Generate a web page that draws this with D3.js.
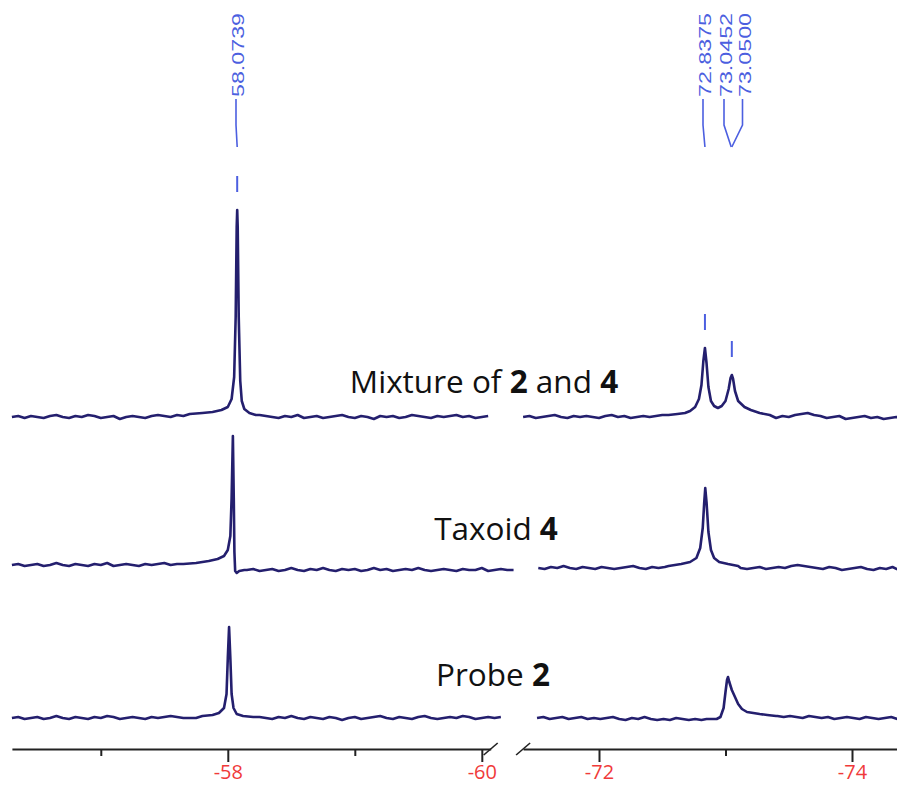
<!DOCTYPE html>
<html>
<head>
<meta charset="utf-8">
<script src="https://cdn.jsdelivr.net/npm/d3@7"></script>
<style>
  body { margin: 0; background: #fff; }
  svg { display: block; }
</style>
</head>
<body>
<svg id="chart" width="897" height="786"></svg>
<script>
// ---- Dades llegides de l'espectre (ppm, intensitat relativa) ----

// Eix: marques principals, secundaries i etiquetes
var majorTicksLeft = [-58, -60];
var minorTicksLeft = [-57, -59];
var majorTicksRight = [-72, -74];
var minorTicksRight = [-73];
var tickLabels = { "-58": "-58", "-60": "-60", "-72": "-72", "-74": "-74" };

// Etiquetes dels pics (a dalt) i la seva posicio en ppm
var peakLabels = ["58.0739", "72.8375", "73.0452", "73.0500"];
var peakShifts = [-58.0739, -72.8375, -73.0452, -73.0500];

// Noms de les tres traces (parts en negreta marcades amb true)
var traceNames = [
    [["Mixture of ", false], ["2", true], [" and ", false], ["4", true]],
    [["Taxoid ", false], ["4", true]],
    [["Probe ", false], ["2", true]]
];

// Inici de cada tram (ppm) - soroll de base cada 0.05 ppm
var leftStart = -56.30;
var rightStarts = [-71.40, -71.52, -71.51];

var mixLeftNoise = [0, 0.5, -0.5, 0.5, 0, -0.5, 0.5, 1, 0, -0.5,
    0.5, 0, 1, 0.5, -0.5, 0, 0.5, -1, 0, 0.5,
    0, -0.5, 0.5, 1, 0.5, 0, 1, 0.5, 1.5, 1,
    1.5, 2, 2.5, 3, 4, 0, 0, 0, 0, 1,
    0.5, 0, -0.5, 0.5, 0, 1, -0.5, 0, 0.5, -0.5,
    0, 0.5, 1, 0, -0.5, 0.5, 0, -1, 0.5, 0,
    0.5, -0.5, 0, 1, 0.5, 0, -0.5, 0.5, 0, 0.5,
    1, 0, 0.5, -0.5, 0, 0.5];
var mixLeftPeak = [[-57.70, 1.5], [-57.80, 2], [-57.88, 2.5], [-57.95, 3.5], [-58.00, 5], [-58.03, 9],
    [-58.05, 20], [-58.062, 50], [-58.07, 95], [-58.074, 103.5], [-58.078, 95], [-58.086, 50],
    [-58.098, 18], [-58.11, 8], [-58.13, 4], [-58.17, 2], [-58.22, 1]];

var mixRightNoise = [0, 0.5, -0.5, 0, 0.5, 1, 0, -0.5, 0.5, 0,
    0.5, 0, -0.5, 0.5, 1, 0, 0.5, -0.5, 0, 0.5,
    0, 0.5, 1, 0, 0, 0, 0, 0, 0, 0,
    0, 0, 0, 0, 0, 0, 0, 0, 0, 0.5,
    -0.5, 0.5, 0, 1, 1.5, 2, 1, 0.5, -0.5, 0,
    0.5, -1, -0.5, 0, 0.5, -0.5, 0, -1, -0.5, 0, -0.5];
var mixRightPeak = [[-72.55, 1], [-72.62, 1.5], [-72.68, 2], [-72.72, 3], [-72.76, 5], [-72.79, 9],
    [-72.81, 16], [-72.825, 28], [-72.8375, 34.5], [-72.85, 27], [-72.865, 15], [-72.885, 8],
    [-72.91, 5.5], [-72.94, 4.5], [-72.97, 5.5], [-73.00, 8], [-73.025, 14], [-73.04, 19.5],
    [-73.05, 21], [-73.06, 19], [-73.075, 13], [-73.10, 8], [-73.15, 5], [-73.20, 3.5],
    [-73.27, 2], [-73.35, 1]];

var taxLeftNoise = [1.5, 2, 1, 1.5, 2, 1, 1.5, 2.5, 1.5, 1,
    2, 1.5, 1, 2, 1.5, 2.5, 1, 1.5, 2, 1.5,
    1, 2, 1.5, 2, 2.5, 1.5, 2, 2, 0, 0,
    0, 0, 0, 0, 0, 0, 0, -1, -0.5, -1.5,
    -1, -0.5, -1.5, -1, 0, -1, -1.5, -0.5, -1, 0,
    -1, -1.5, -0.5, -1, -0.5, -1.5, -1, 0, -1, -0.5,
    -1.5, -1, -0.5, -1, 0, -1, -1.5, -1, -0.5, -1,
    -1.5, -0.5, -1, -1, 0, -1.5, -1, -0.5, -1, -1];
var taxLeftPeak = [[-57.65, 2], [-57.75, 2.5], [-57.85, 3.5], [-57.92, 4.5], [-57.97, 6], [-58.00, 9],
    [-58.02, 16], [-58.03, 35], [-58.04, 66], [-58.047, 35], [-58.052, 8], [-58.058, -1.5],
    [-58.07, -2.5], [-58.09, -1.5], [-58.13, -1]];

var taxRightNoise = [0, -0.5, 0.5, 0, 1, 0, -0.5, 0.5, 0, -0.5,
    0.5, 0, -0.5, 0, 0.5, 1, 0, -0.5, 0.5, 0,
    0.5, 0, 0, 0, 0, 0, 0, 0, 0, 0,
    0, 0, 0, -0.5, 0, 0.5, -0.5, 0, 0.5, 0,
    1, 1.5, 1, 0.5, 0, -0.5, 0.5, 0, -1, -0.5,
    0, 0.5, -0.5, -1, 0, -0.5, 0.5, -1, -0.5];
var taxRightPeak = [[-72.55, 1], [-72.65, 2], [-72.72, 3], [-72.77, 5], [-72.80, 10], [-72.82, 20],
    [-72.832, 33], [-72.84, 40], [-72.85, 33], [-72.865, 18], [-72.885, 9], [-72.91, 5],
    [-72.95, 3], [-73.02, 2], [-73.10, 1]];

var probLeftNoise = [0, 0.5, -0.5, 0, 0.5, -0.5, 0, 1, 0, -0.5,
    0.5, 0, -0.5, 0.5, 0, 1, 0.5, -0.5, 0, 0.5,
    0, -0.5, 0.5, 0, 0.5, 1, 0.5, 0, 0, 0,
    0, 0, 0, 0, 0, 0, 0, 0, 0, 0.5,
    0, -0.5, 0.5, 0, 1, 0, -0.5, 0.5, 0, -0.5,
    0.5, 0, -1, 0, 0.5, -0.5, 0, 0.5, 1, 0,
    -0.5, 0.5, 0, -0.5, 0.5, 1, 0, -0.5, 0, 0.5,
    0, 1, 0.5, -0.5, 0, 0.5, 0, 0.5];
var probLeftPeak = [[-57.80, 1], [-57.88, 1.5], [-57.93, 2.5], [-57.97, 5], [-57.99, 12], [-58.00, 30],
    [-58.01, 45.5], [-58.02, 30], [-58.03, 12], [-58.045, 5], [-58.07, 2], [-58.12, 1], [-58.20, 0.5]];

var probRightNoise = [0, 0.5, -0.5, 0, 0.5, -0.5, 0, 0.5, -0.5, 0,
    -0.5, 0, 0.5, -0.5, -1, 0, -0.5, 0.5, -0.5, -1,
    -0.5, -1, 0, -0.5, -1, -0.5, -1, 0, 0, 0,
    0, 0, 0, 0, 0, 0, 0, 0, 1, 0.5,
    1, 0.5, 0, 1, 0.5, 0, 0.5, -0.5, 0, 0.5,
    0, -0.5, 0.5, 0, -0.5, 0, 0.5, -0.5, 0];
var probRightPeak = [[-72.85, -0.5], [-72.93, -0.5], [-72.96, 0.5], [-72.985, 5], [-73.00, 13],
    [-73.012, 19], [-73.02, 20.5], [-73.03, 18], [-73.05, 14], [-73.075, 10.5], [-73.10, 7],
    [-73.13, 4.5], [-73.17, 3], [-73.22, 2.5], [-73.27, 2], [-73.33, 1.5], [-73.40, 1]];

// ---- Dibuix ----
var svg = d3.select("#chart");

var baselineY = [417, 568, 718];
var axisY = 749;

// Escales: dos trams de l'eix ppm (amb tall)
var xLeft = d3.scaleLinear().domain([-56.30, -60.07]).range([11.9, 490.7]);
var xRight = d3.scaleLinear().domain([-71.40, -74.40]).range([523.1, 902.6]);
var y = d3.scaleLinear().domain([0, 100]).range([0, -200]);

var traceColor = "#241f6e";
var labelBlue = "#4c5fe0";
var axisRed = "#f03a3a";

function xFor(ppm) {
    return ppm > -65 ? xLeft(ppm) : xRight(ppm);
}

// Combina el soroll de base amb els punts del pic
function buildSegment(start, noise, peak) {
    var hi = d3.max(peak, function (d) { return d[0]; });
    var lo = d3.min(peak, function (d) { return d[0]; });
    var pts = noise.map(function (v, i) { return [start - 0.05 * i, v]; })
        .filter(function (p) { return p[0] > hi + 1e-6 || p[0] < lo - 1e-6; });
    return pts.concat(peak).sort(function (a, b) { return b[0] - a[0]; });
}

var segments = [
    { left: buildSegment(leftStart, mixLeftNoise, mixLeftPeak), right: buildSegment(rightStarts[0], mixRightNoise, mixRightPeak) },
    { left: buildSegment(leftStart, taxLeftNoise, taxLeftPeak), right: buildSegment(rightStarts[1], taxRightNoise, taxRightPeak) },
    { left: buildSegment(leftStart, probLeftNoise, probLeftPeak), right: buildSegment(rightStarts[2], probRightNoise, probRightPeak) }
];

function lineFor(xs) {
    return d3.line()
        .x(function (d) { return xs(d[0]); })
        .y(function (d) { return y(d[1]); });
}

segments.forEach(function (seg, i) {
    var g = svg.append("g").attr("transform", "translate(0," + baselineY[i] + ")");
    [[xLeft, seg.left], [xRight, seg.right]].forEach(function (s) {
        g.append("path").attr("d", lineFor(s[0])(s[1]))
            .attr("fill", "none").attr("stroke", traceColor).attr("stroke-width", 2.6)
            .attr("stroke-linejoin", "round");
    });
});

// Noms de les traces
var nameCenters = [484, 496, 493];
var nameBaselines = [393, 540, 686];
traceNames.forEach(function (parts, i) {
    var t = svg.append("text")
        .attr("x", nameCenters[i]).attr("y", nameBaselines[i])
        .attr("text-anchor", "middle")
        .style("font-family", "'Open Sans', Lato, sans-serif")
        .style("font-size", "31.5px").style("fill", "#111");
    parts.forEach(function (p) {
        t.append("tspan").text(p[0]).style("font-weight", p[1] ? "bold" : "normal");
    });
});

// Etiquetes dels pics (a dalt, en blau)
var lineTopX = [236, 703, 724, 742.5];
peakLabels.forEach(function (lab, i) {
    var px = xFor(peakShifts[i]);
    var lx = lineTopX[i];
    svg.append("text")
        .attr("transform", "translate(" + (lx + 2.5) + ",97) rotate(-90)")
        .attr("dy", "0.36em")
        .attr("textLength", 84).attr("lengthAdjust", "spacingAndGlyphs")
        .style("font-family", "'Liberation Sans', Arial, sans-serif")
        .style("font-size", "16px").style("fill", labelBlue)
        .text(lab);
    svg.append("path")
        .attr("d", d3.line()([[lx, 99], [lx, 125], [px, 147]]))
        .attr("fill", "none").attr("stroke", labelBlue).attr("stroke-width", 1.6);
});

// Petites marques sobre els pics de la mescla
[[-58.0739, mixLeftPeak], [-72.8375, mixRightPeak], [-73.0500, mixRightPeak]].forEach(function (d) {
    var h = d3.max(d[1].filter(function (p) { return Math.abs(p[0] - d[0]) < 0.005; }), function (p) { return p[1]; });
    var top = baselineY[0] + y(h);
    svg.append("line")
        .attr("x1", xFor(d[0])).attr("x2", xFor(d[0]))
        .attr("y1", top - 34).attr("y2", top - 18)
        .attr("stroke", labelBlue).attr("stroke-width", 2);
});

// Eix inferior amb tall
function drawAxis(scale, major, minor) {
    var g = svg.append("g").attr("transform", "translate(0," + axisY + ")");
    g.call(d3.axisBottom(scale).tickValues(major).tickSize(13).tickSizeOuter(0).tickPadding(3)
        .tickFormat(function (d) { return tickLabels[String(d)]; }));
    var g2 = svg.append("g").attr("transform", "translate(0," + axisY + ")");
    g2.call(d3.axisBottom(scale).tickValues(minor).tickSize(7).tickSizeOuter(0).tickFormat(""));
    g2.select(".domain").remove();
    [g, g2].forEach(function (a) {
        a.selectAll("line").attr("stroke", "#222").attr("stroke-width", 2);
    });
    g.select(".domain").attr("stroke", "#222").attr("stroke-width", 2);
    g.selectAll("text")
        .style("font-family", "'Open Sans', 'Liberation Sans', sans-serif")
        .style("font-size", "20px").style("fill", axisRed);
}
drawAxis(xLeft, majorTicksLeft, minorTicksLeft);
drawAxis(xRight, majorTicksRight, minorTicksRight);

// Marques de tall
[xLeft.range()[1], xRight.range()[0]].forEach(function (cx) {
    svg.append("line")
        .attr("x1", cx - 7).attr("y1", axisY + 6)
        .attr("x2", cx + 7).attr("y2", axisY - 6)
        .attr("stroke", "#222").attr("stroke-width", 1.6);
});
</script>
</body>
</html>
